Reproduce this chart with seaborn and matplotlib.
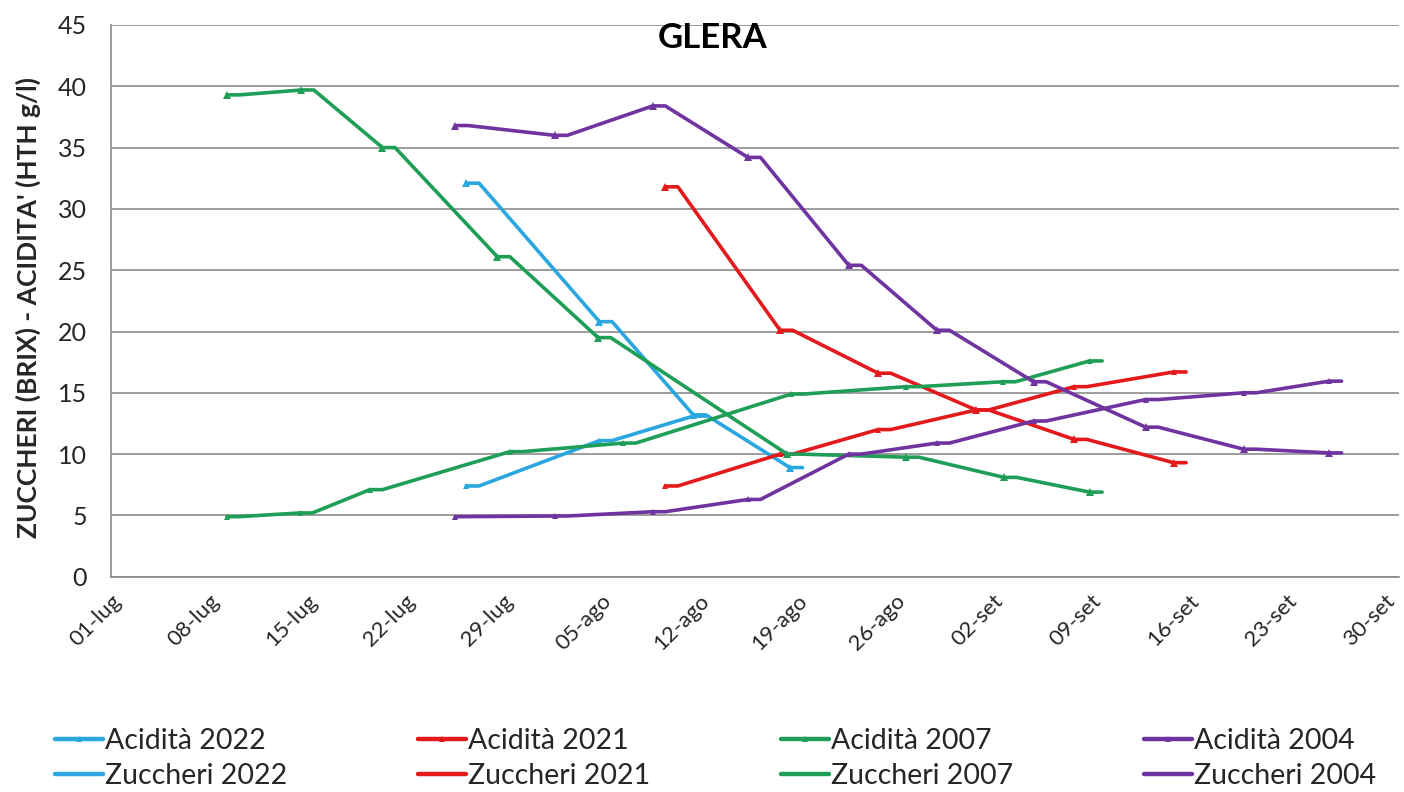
import numpy as np
import pandas as pd
import matplotlib
matplotlib.use("Agg")
import matplotlib.pyplot as plt
import seaborn as sns
from matplotlib.lines import Line2D

# ---- data (x = days since 01-lug) ----
tick_days = [0, 7, 14, 21, 28, 35, 42, 49, 56, 63, 70, 77, 84, 91]
tick_labels = ["01-lug", "08-lug", "15-lug", "22-lug", "29-lug", "05-ago", "12-ago",
               "19-ago", "26-ago", "02-set", "09-set", "16-set", "23-set", "30-set"]

giorni_acid_2022 = [25.4, 34.9, 41.6, 48.5]
acidita_2022 = [32.1, 20.8, 13.2, 8.9]
giorni_zucc_2022 = [25.4, 34.9, 41.6]
zuccheri_2022 = [7.4, 11.1, 13.1]

giorni_2021 = [39.6, 47.8, 54.8, 61.8, 68.8, 75.9]
acidita_2021 = [31.8, 20.1, 16.6, 13.6, 11.2, 9.3]
zuccheri_2021 = [7.4, 10.0, 12.0, 13.6, 15.5, 16.7]

giorni_acid_2007 = [8.3, 13.6, 19.4, 27.6, 34.8, 48.3, 56.8, 63.8, 69.9]
acidita_2007 = [39.3, 39.7, 35.0, 26.1, 19.5, 10.0, 9.75, 8.1, 6.9]
giorni_zucc_2007 = [8.3, 13.5, 18.5, 28.5, 36.6, 48.6, 56.8, 63.7, 69.9]
zuccheri_2007 = [4.9, 5.2, 7.1, 10.2, 10.9, 14.9, 15.5, 15.9, 17.6]

giorni_2004 = [24.6, 31.7, 38.7, 45.5, 52.7, 59.0, 65.9, 73.9, 80.9, 87.0]
acidita_2004 = [36.8, 36.0, 38.4, 34.2, 25.4, 20.1, 15.9, 12.2, 10.4, 10.1]
zuccheri_2004 = [4.9, 4.95, 5.3, 6.3, 10.0, 10.9, 12.7, 14.45, 15.0, 15.95]

series = [
    ("Acidità 2022", giorni_acid_2022, acidita_2022, "#2AA7DF", True),
    ("Zuccheri 2022", giorni_zucc_2022, zuccheri_2022, "#2AA7DF", False),
    ("Acidità 2021", giorni_2021, acidita_2021, "#E3191C", True),
    ("Zuccheri 2021", giorni_2021, zuccheri_2021, "#E3191C", False),
    ("Acidità 2007", giorni_acid_2007, acidita_2007, "#1E9E57", True),
    ("Zuccheri 2007", giorni_zucc_2007, zuccheri_2007, "#1E9E57", False),
    ("Acidità 2004", giorni_2004, acidita_2004, "#7034A0", True),
    ("Zuccheri 2004", giorni_2004, zuccheri_2004, "#7034A0", False),
]

HOLD = 0.9  # short horizontal hold drawn after each reading (as in the source chart)

sns.set_theme(style="white")
plt.rcParams["font.family"] = ["Lato", "DejaVu Sans"]

W, H = 1404, 792
fig = plt.figure(figsize=(W / 100, H / 100), dpi=100)
x0, x1 = 110.8, 1399
y0, y1 = 576.7, 25
ax = fig.add_axes([x0 / W, 1 - y0 / H, (x1 - x0) / W, (y0 - y1) / H])

handles = []
for name, days, vals, color, is_acid in series:
    xs, ys = [], []
    for d, v in zip(days, vals):
        xs += [d, d + HOLD]
        ys += [v, v]
    df = pd.DataFrame({"giorno": xs, "valore": ys})
    sns.lineplot(data=df, x="giorno", y="valore", sort=False, estimator=None,
                 color=color, lw=2.6, marker="^", markevery=(0, 2),
                 ms=6 if is_acid else 4, markeredgewidth=0, ax=ax, legend=False)
    handles.append(Line2D([], [], color=color, lw=3.2,
                          marker="^" if is_acid else None, ms=4, markeredgewidth=0))

ax.set_xlim(0, 92)
ax.set_ylim(0, 45)
ax.set_yticks(np.arange(0, 46, 5))
ax.set_xticks(tick_days)
ax.set_xticklabels(tick_labels, rotation=45, ha="right", rotation_mode="anchor")
ax.tick_params(axis="x", labelsize=16, length=7, color="#8a8a8a", width=1.2, pad=3)
ax.tick_params(axis="y", labelsize=18, length=7, color="#8a8a8a", width=1.2, pad=10)
ax.yaxis.grid(True, color="#8c8c8c", lw=1.2)
ax.xaxis.grid(False)
for s in ["top", "right"]:
    ax.spines[s].set_visible(False)
for s in ["left", "bottom"]:
    ax.spines[s].set_color("#8a8a8a")
    ax.spines[s].set_linewidth(1.2)
ax.set_xlabel("")
ax.set_ylabel("")

ax.text(0.467, 0.976, "GLERA", transform=ax.transAxes, ha="center", va="center",
        fontsize=25, fontweight="bold", color="black")
fig.text(28 / W, 1 - 308 / H, "ZUCCHERI (BRIX) - ACIDITA' (HTH g/l)", rotation=90,
         ha="center", va="center", fontsize=19, fontweight="bold")

fig.legend(handles, [s[0] for s in series], ncol=4, loc="upper left",
           bbox_to_anchor=(55 / W, 1 - 728 / H), frameon=False, fontsize=20.5,
           handlelength=1.7, handletextpad=0.05, columnspacing=4.6, labelspacing=0.33,
           borderaxespad=0, borderpad=0)

fig.savefig("out.png", dpi=100)
